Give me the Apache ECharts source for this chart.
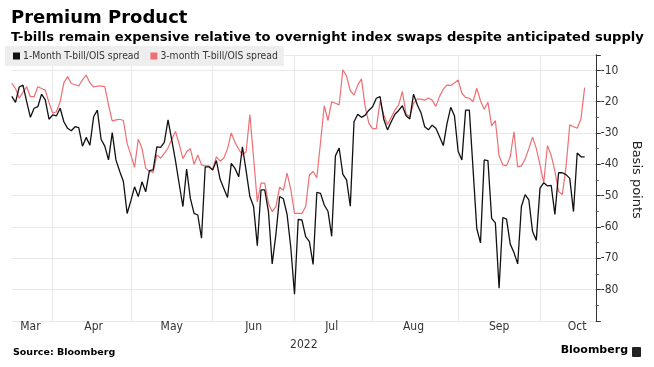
<!DOCTYPE html>
<html>
<head>
<meta charset="utf-8">
<script src="https://cdn.jsdelivr.net/npm/echarts@6/dist/echarts.min.js"></script>
<style>
html,body{margin:0;padding:0;background:#fff;}
#chart{width:654px;height:367px;}
</style>
</head>
<body>
<div id="chart"></div>
<script>
// Weekday categories (business days), Mar 17 – Oct 24, 2022
const dates = [
'2022-03-17','2022-03-18','2022-03-21','2022-03-22','2022-03-23','2022-03-24','2022-03-25','2022-03-28','2022-03-29','2022-03-30','2022-03-31',
'2022-04-01','2022-04-04','2022-04-05','2022-04-06','2022-04-07','2022-04-08','2022-04-11','2022-04-12','2022-04-13','2022-04-14','2022-04-15','2022-04-18','2022-04-19','2022-04-20','2022-04-21','2022-04-22','2022-04-25','2022-04-26','2022-04-27','2022-04-28','2022-04-29',
'2022-05-02','2022-05-03','2022-05-04','2022-05-05','2022-05-06','2022-05-09','2022-05-10','2022-05-11','2022-05-12','2022-05-13','2022-05-16','2022-05-17','2022-05-18','2022-05-19','2022-05-20','2022-05-23','2022-05-24','2022-05-25','2022-05-26','2022-05-27','2022-05-30','2022-05-31',
'2022-06-01','2022-06-02','2022-06-03','2022-06-06','2022-06-07','2022-06-08','2022-06-09','2022-06-10','2022-06-13','2022-06-14','2022-06-15','2022-06-16','2022-06-17','2022-06-20','2022-06-21','2022-06-22','2022-06-23','2022-06-24','2022-06-27','2022-06-28','2022-06-29','2022-06-30',
'2022-07-01','2022-07-04','2022-07-05','2022-07-06','2022-07-07','2022-07-08','2022-07-11','2022-07-12','2022-07-13','2022-07-14','2022-07-15','2022-07-18','2022-07-19','2022-07-20','2022-07-21','2022-07-22','2022-07-25','2022-07-26','2022-07-27','2022-07-28','2022-07-29',
'2022-08-01','2022-08-02','2022-08-03','2022-08-04','2022-08-05','2022-08-08','2022-08-09','2022-08-10','2022-08-11','2022-08-12','2022-08-15','2022-08-16','2022-08-17','2022-08-18','2022-08-19','2022-08-22','2022-08-23','2022-08-24','2022-08-25','2022-08-26','2022-08-29','2022-08-30','2022-08-31',
'2022-09-01','2022-09-02','2022-09-05','2022-09-06','2022-09-07','2022-09-08','2022-09-09','2022-09-12','2022-09-13','2022-09-14','2022-09-15','2022-09-16','2022-09-19','2022-09-20','2022-09-21','2022-09-22','2022-09-23','2022-09-26','2022-09-27','2022-09-28','2022-09-29','2022-09-30',
'2022-10-03','2022-10-04','2022-10-05','2022-10-06','2022-10-07','2022-10-10','2022-10-11','2022-10-12','2022-10-13','2022-10-14','2022-10-17','2022-10-18','2022-10-19','2022-10-20','2022-10-21','2022-10-24'
];

// 1-Month T-bill/OIS spread (bp)
const oneMonth = [
-18.3,-20.2,-15.3,-14.7,-20,-25,-22.1,-21.6,-17.6,-19.4,-25.6,
-24.2,-24.5,-22.1,-26.4,-28.5,-29.3,-28,-28.3,-34.2,-31.4,-33.9,-24.8,-22.7,-32,-34.2,-38.6,-29.9,-38.6,-42.2,-45.5,-55.7,
-51.7,-47.2,-50.3,-45.6,-48.8,-42,-41.8,-34.4,-34.6,-33,-25.8,-32.2,-38.8,-46.3,-53.5,-41.5,-50.9,-55.7,-56.2,-63.6,-40.8,-40.8,
-41.8,-38.8,-44.8,-47.7,-50.6,-39.7,-41.3,-44,-34.4,-42.1,-50.3,-53.5,-66,-48.2,-48.2,-55.1,-71.8,-62.4,-50.3,-51,-56,-66.5,
-81.5,-57.6,-57.8,-63.1,-64.7,-72,-49,-49.3,-53,-55,-63,-37.3,-34.8,-43.2,-45,-53.4,-26.4,-24,-25,-24.3,-22.7,
-21.6,-18.9,-18.4,-25.6,-29,-26.4,-24,-22.8,-21.3,-24.5,-25.5,-17.6,-21,-23.5,-28,-29,-27.5,-28.5,-31.2,-34,-27,-21.8,-24.5,
-35.9,-38.6,-22.7,-22.7,-41.5,-60.5,-65.1,-38.6,-38.8,-57.3,-58.7,-79.6,-57,-57.5,-65.5,-68.2,-71.8,-53.5,-49.7,-51.4,-61.5,-64.3,
-47.6,-45.9,-46.9,-46.7,-56,-42.7,-42.7,-43.3,-44.5,-55.1,-36.4,-37.6,-37.6
];

// 3-month T-bill/OIS spread (bp)
const threeMonth = [
-14.1,-15.8,-18.9,-17,-15.2,-18.4,-18.4,-15.2,-15.8,-16.3,-20.3,
-23.7,-23.2,-20,-14,-12,-14.2,-14.6,-15,-13,-11.5,-14,-15.3,-15,-15,-15.2,-21,-26.2,-25.8,-25.6,-26,-33.3,
-37,-41,-32,-34.9,-41.3,-42.2,-42.6,-37,-38,-36.5,-34.8,-32,-29.5,-33.5,-38.2,-36,-35,-40,-37,-40.2,-40.5,-40.5,
-41.8,-37.6,-39,-38,-35,-30,-33,-35.2,-37,-36,-24.1,-38,-52,-46,-46,-52.5,-55.1,-53.5,-47.3,-48.3,-42.8,-48,
-55.7,-55.7,-55.7,-53.5,-43.4,-42.3,-44.3,-33,-21.3,-26,-20,-20.5,-21,-9.8,-11.8,-16.5,-17.9,-14.7,-12.7,-21.6,-26.9,
-28.6,-28.6,-19.8,-24.2,-27.3,-25,-22.7,-21,-16.7,-24,-24.8,-20.5,-19.2,-19.2,-19.5,-18.8,-19.5,-21.5,-18.3,-16,-14.7,-14.8,-14,
-13.1,-17.3,-18.6,-18.9,-20,-15.7,-19.7,-22.4,-20.2,-27.7,-26,-37.3,-40.2,-40.5,-37.6,-29.6,-40.8,-40.5,-38.3,-35,-31.3,-34.9,
-40.2,-45.9,-34,-37.1,-42.2,-48.7,-49.7,-40.8,-27.4,-28,-28.5,-25.5,-15.5
];

// Month gridlines (first business day) and month label positions
const monthStarts = ['2022-04-01','2022-05-02','2022-06-01','2022-07-01','2022-08-01','2022-09-01','2022-10-03'];
const monthLabelDates = ['2022-03-24','2022-04-18','2022-05-17','2022-06-16','2022-07-15','2022-08-16','2022-09-16','2022-10-17'];
const monthLabels = ['Mar','Apr','May','Jun','Jul','Aug','Sep','Oct'];

const seriesNames = ['1-Month T-bill/OIS spread', '3-month T-bill/OIS spread'];
const NARROW = "'Liberation Sans Narrow', 'DejaVu Sans Condensed', 'Roboto Condensed', sans-serif";

const chart = echarts.init(document.getElementById('chart'), null, {renderer: 'canvas'});
chart.setOption({
  backgroundColor: '#ffffff',
  animation: false,
  title: [
    {text: 'Premium Product', left: 6, top: 4,
     textStyle: {fontFamily: 'DejaVu Sans', fontWeight: 'bold', fontSize: 18, color: '#000'}},
    {text: 'T-bills remain expensive relative to overnight index swaps despite anticipated supply', left: 6, top: 26,
     textStyle: {fontFamily: 'DejaVu Sans', fontWeight: 'bold', fontSize: 13.1, color: '#000'}}
  ],
  legend: {
    data: seriesNames,
    left: 5, top: 46,
    backgroundColor: '#eeeeee',
    padding: [5, 6, 5, 8],
    itemGap: 11,
    itemWidth: 7, itemHeight: 7,
    icon: 'rect',
    textStyle: {fontFamily: NARROW, fontSize: 10.3, color: '#333', padding: [0, 0, 0, -2]}
  },
  grid: {left: 11.8, right: 58.2, top: 54.75, bottom: 46.2, containLabel: false},
  xAxis: {
    type: 'category',
    data: dates,
    boundaryGap: false,
    name: '2022',
    nameLocation: 'middle',
    nameGap: 18,
    nameTextStyle: {fontFamily: NARROW, fontSize: 12, color: '#333'},
    axisLine: {show: false},
    axisTick: {show: false},
    axisLabel: {
      interval: (idx, val) => monthLabelDates.includes(val),
      formatter: (val) => monthLabels[monthLabelDates.indexOf(val)],
      fontFamily: NARROW, fontSize: 12, color: '#333', margin: 0
    },
    splitLine: {
      show: true,
      interval: (idx, val) => monthStarts.includes(val),
      lineStyle: {color: '#e8e8e8', width: 1}
    }
  },
  yAxis: {
    type: 'value',
    position: 'right',
    min: -90, max: -5, interval: 10,
    name: 'Basis points',
    nameLocation: 'middle',
    nameRotate: -90,
    nameGap: 34,
    nameTextStyle: {fontFamily: 'DejaVu Sans', fontSize: 13, color: '#222', padding: [0, 16, 0, 0]},
    axisLine: {show: true, lineStyle: {color: '#333', width: 1}},
    axisTick: {show: true, inside: false, length: 5, lineStyle: {color: '#333'}},
    minorTick: {show: true, splitNumber: 2, length: 3, lineStyle: {color: '#555'}},
    axisLabel: {fontFamily: NARROW, fontSize: 12, color: '#333', margin: 5, showMinLabel: false, showMaxLabel: false},
    splitLine: {show: true, lineStyle: {color: '#e8e8e8', width: 1}}
  },
  series: [
    {name: seriesNames[1], type: 'line', data: threeMonth, showSymbol: false, symbol: 'none',
     lineStyle: {color: '#ee6f74', width: 1.2}, itemStyle: {color: '#ee6f74'}, z: 2},
    {name: seriesNames[0], type: 'line', data: oneMonth, showSymbol: false, symbol: 'none',
     lineStyle: {color: '#111111', width: 1.3}, itemStyle: {color: '#111111'}, z: 3}
  ],
  graphic: [
    {type: 'text', left: 13, top: 348,
     style: {text: 'Source: Bloomberg', fontFamily: 'DejaVu Sans', fontWeight: 'bold', fontSize: 9.5, fill: '#000'}},
    {type: 'text', right: 26, top: 345,
     style: {text: 'Bloomberg', fontFamily: 'DejaVu Sans', fontWeight: 'bold', fontSize: 11, fill: '#000'}},
    {type: 'rect', right: 13, top: 347, shape: {width: 9, height: 10, r: 1}, style: {fill: '#222'}}
  ]
});
</script>
</body>
</html>
